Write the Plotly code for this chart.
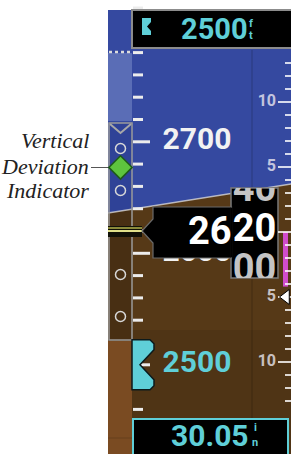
import plotly.graph_objects as go

# ---------------- data ----------------
selected_alt = 2500            # selected altitude (ft)
current_alt = 2620             # indicated altitude (ft)
baro_setting = "30.05"         # barometric setting (inHg)
tape_label_alts = [2700, 2600, 2500]
tape_tick_alts = list(range(2420, 2841, 20))
roll_values = [2640, 2620, 2600]
roll_text = ["40", "20", "00"]
vsi_label_values = [1000, 500, -500, -1000]
vsi_label_text = ["10", "5", "5", "10"]
vsi_tick_values = list(range(-1300, 1301, 100))
vertical_speed = -500
vs_trend = -420
vdi_dots = [-2, -1, 1, 2]
vdi_deviation = 1.55
callout_lines = ["Vertical", "Deviation", "Indicator"]

# ---------------- styling ----------------
SKY = "#3549a0"
SKY_DARK = "#2f4297"
SKY_LIGHT = "#5a6db6"
GROUND = "#563917"
GROUND_DARK = "#482f13"
GROUND_LEFT = "#7a4b22"
CYAN = "#5fcfd8"
GREY = "#8c8c8c"
DIGIT_FONT = "Roboto"

W, H = 291, 454
PX_PER_FT = 1.115
PTR_PX = 231          # pixel row of the altitude pointer
VSI_PX_PER_FPM = 0.13
VSI_ZERO_PX = 232
VDI_ZERO_PX = 232.5
VDI_PX_PER_DOT = 42

alt_top = current_alt + PTR_PX / PX_PER_FT
alt_bot = current_alt - (H - PTR_PX) / PX_PER_FT

fig = go.Figure()

# tape ticks
tx, ty = [], []
for a in tape_tick_alts:
    x1 = 150 if a % 100 == 0 else 143
    tx += [133, x1, None]
    ty += [a, a, None]
fig.add_trace(go.Scatter(x=tx, y=ty, mode="lines", line=dict(color="#ececec", width=3),
                         yaxis="y", hoverinfo="skip"))
# tape labels
fig.add_trace(go.Scatter(
    x=[197] * len(tape_label_alts), y=tape_label_alts, mode="text",
    text=[str(a) for a in tape_label_alts],
    textfont=dict(family=DIGIT_FONT, size=30, weight="bold",
                  color=[CYAN if a == selected_alt else "#f2f2f2" for a in tape_label_alts]),
    yaxis="y", hoverinfo="skip"))

# VSI ticks
vx, vy = [], []
for v in vsi_tick_values:
    x0 = 278 if v % 500 == 0 else 285
    vx += [x0, 291, None]
    vy += [v, v, None]
fig.add_trace(go.Scatter(x=vx, y=vy, mode="lines", line=dict(color="rgba(255,255,255,0.8)", width=2),
                         yaxis="y2", hoverinfo="skip"))
fig.add_trace(go.Scatter(
    x=[276] * len(vsi_label_values), y=vsi_label_values, mode="text",
    text=vsi_label_text, textposition="middle left",
    textfont=dict(family=DIGIT_FONT, size=16, weight="bold", color="rgba(235,232,240,0.8)"),
    yaxis="y2", hoverinfo="skip"))
fig.add_trace(go.Scatter(
    x=[286], y=[vertical_speed], mode="markers",
    marker=dict(symbol="triangle-left", size=13, color="white", line=dict(color="black", width=1)),
    yaxis="y2", hoverinfo="skip"))

# VDI
fig.add_trace(go.Scatter(
    x=[120.5] * len(vdi_dots), y=vdi_dots, mode="markers",
    marker=dict(symbol="circle-open", size=10, color="#d8d8d8", line=dict(width=1.5)),
    yaxis="y4", hoverinfo="skip"))
fig.add_trace(go.Scatter(
    x=[120.5], y=[vdi_deviation], mode="markers",
    marker=dict(symbol="diamond", size=18, color="#5ec43e", line=dict(color="#1e5a1a", width=1.5)),
    yaxis="y4", hoverinfo="skip"))

# rolling digits in the window subplot
fig.add_trace(go.Scatter(
    x=[254.5] * 3, y=roll_values, mode="text", text=roll_text,
    textfont=dict(family=DIGIT_FONT, size=38, weight="bold", color=["#c4c4c4", "white", "#c4c4c4"]),
    xaxis="x2", yaxis="y5", cliponaxis=True, hoverinfo="skip"))


def hz(x):
    return 213 - (x - 108) * (29 / 183)


shapes = []
P = dict(xref="x", yref="y3")
# backgrounds
shapes.append(dict(type="rect", x0=108, x1=292, y0=10, y1=455, fillcolor=SKY, line_width=0, layer="below", **P))
shapes.append(dict(type="path", path=f"M108,{hz(108)} L292,{hz(292)} L292,455 L108,455 Z",
                   fillcolor=GROUND, line_width=0, layer="below", **P))
shapes.append(dict(type="path", path="M108,330 L292,330 L292,455 L108,455 Z",
                   fillcolor="rgba(0,0,0,0.07)", line_width=0, layer="below", **P))
shapes.append(dict(type="rect", x0=108, x1=132, y0=53, y1=121, fillcolor=SKY_LIGHT, line_width=0, layer="below", **P))
shapes.append(dict(type="path", path=f"M109,123 L132,123 L132,{hz(132)} L109,{hz(109)} Z",
                   fillcolor=SKY_DARK, line_width=0, layer="below", **P))
shapes.append(dict(type="path", path=f"M109,{hz(109)} L132,{hz(132)} L132,340 L109,340 Z",
                   fillcolor=GROUND_DARK, line_width=0, layer="below", **P))
shapes.append(dict(type="rect", x0=108, x1=132, y0=341, y1=455, fillcolor=GROUND_LEFT, line_width=0, layer="below", **P))
shapes.append(dict(type="line", x0=108, x1=132, y0=438, y1=438, line=dict(color="rgba(0,0,0,0.15)", width=1), layer="below", **P))
# VSI divider
shapes.append(dict(type="line", x0=252, x1=252, y0=50, y1=418, line=dict(color="rgba(0,0,0,0.22)", width=1), layer="below", **P))
# horizon line
shapes.append(dict(type="line", x0=108, x1=292, y0=hz(108), y1=hz(292),
                   line=dict(color="rgba(225,225,225,0.75)", width=1.5), layer="below", **P))
# VSI trend bar
shapes.append(dict(type="rect", xref="x", yref="y2", x0=283, x1=288, y0=0, y1=vs_trend,
                   fillcolor="#d04ccc", line_width=0, layer="below"))
# digit window
shapes.append(dict(type="rect", x0=231, x1=278, y0=188, y1=278, fillcolor="black",
                   line=dict(color="#7a7a7a", width=1.5), layer="below", **P))
# dotted line
shapes.append(dict(type="line", x0=109, x1=131, y0=52, y1=52, line=dict(color="#dcdcdc", width=2.5, dash="dot"),
                   layer="below", **P))
# VDI outline and chevron
shapes.append(dict(type="rect", x0=109, x1=132, y0=123, y1=340, line=dict(color="#9a9a9a", width=1.5), layer="below", **P))
shapes.append(dict(type="path", path="M110,124 L120.5,133 L131,124", line=dict(color="#a8a8a8", width=2), layer="below", **P))
# leader line
shapes.append(dict(type="line", x0=91, x1=112, y0=167.5, y1=167.5, line=dict(color="#555555", width=1), layer="below", **P))

# ---- above ----
# aircraft reference line
shapes.append(dict(type="rect", x0=108, x1=142, y0=226, y1=237, fillcolor="#111108", line_width=0, layer="above", **P))
shapes.append(dict(type="line", x0=108, x1=142, y0=228, y1=228, line=dict(color="#8a8a3a", width=2), layer="above", **P))
shapes.append(dict(type="line", x0=108, x1=142, y0=231, y1=231, line=dict(color="#e0e08a", width=2), layer="above", **P))
# pointer body
shapes.append(dict(type="path", path="M142,231 L153,219 L153,207 L231.5,207 L231.5,258 L153,258 L153,243 Z",
                   fillcolor="black", line=dict(color="#6a6a6a", width=1.2), layer="above", **P))
shapes.append(dict(type="line", x0=231.5, x1=231.5, y0=207.6, y1=257.4, line=dict(color="black", width=2), layer="above", **P))
# selected altitude bug on the tape
shapes.append(dict(type="path", xref="x", yref="y", ysizemode="pixel", yanchor=selected_alt,
                   path="M132,25 L150,25 L154,21 L154,15 L140,0 L154,-15 L154,-21 L150,-25 L132,-25 Z",
                   fillcolor=CYAN, line=dict(color="#0c1a1c", width=1.5), layer="above"))
# top selected altitude box
shapes.append(dict(type="rect", x0=132, x1=294, y0=10, y1=48, fillcolor="black",
                   line=dict(color=GREY, width=2), layer="above", **P))
shapes.append(dict(type="path", path="M142,18 L151,18 L151,22 L147,26.5 L151,31 L151,35 L142,35 Z",
                   fillcolor=CYAN, line_width=0, layer="above", **P))
# baro box
shapes.append(dict(type="rect", x0=133, x1=288, y0=419, y1=460, fillcolor="black",
                   line=dict(color=CYAN, width=2), layer="above", **P))

ann = []
for txt, yy in zip(callout_lines, [140, 166, 190]):
    ann.append(dict(text=txt, x=91, y=yy, xref="x", yref="y3", xanchor="right", yanchor="middle", showarrow=False,
                    font=dict(family="Liberation Serif", size=22, style="italic", color="#222222")))
ann.append(dict(text=str(current_alt // 100), x=210, y=PTR_PX, xref="x", yref="y3", showarrow=False,
                font=dict(family=DIGIT_FONT, size=38, weight="bold", color="white")))
ann.append(dict(text=str(selected_alt), x=214, y=29, xref="x", yref="y3", showarrow=False,
                font=dict(family=DIGIT_FONT, size=29, weight="bold", color=CYAN)))
ann.append(dict(text="f", x=251, y=23, xref="x", yref="y3", showarrow=False,
                font=dict(family=DIGIT_FONT, size=11, weight="bold", color=CYAN)))
ann.append(dict(text="t", x=251, y=35, xref="x", yref="y3", showarrow=False,
                font=dict(family=DIGIT_FONT, size=11, weight="bold", color=CYAN)))
ann.append(dict(text=baro_setting, x=210, y=435.5, xref="x", yref="y3", showarrow=False,
                font=dict(family=DIGIT_FONT, size=30, weight="bold", color=CYAN)))
ann.append(dict(text="i", x=255, y=427, xref="x", yref="y3", showarrow=False,
                font=dict(family=DIGIT_FONT, size=11, weight="bold", color=CYAN)))
ann.append(dict(text="n", x=255, y=442, xref="x", yref="y3", showarrow=False,
                font=dict(family=DIGIT_FONT, size=11, weight="bold", color=CYAN)))

hidden = dict(visible=False, showgrid=False, zeroline=False, fixedrange=True)
fig.update_layout(
    width=W, height=H, autosize=False, margin=dict(l=0, r=0, t=0, b=0, pad=0),
    paper_bgcolor="white", plot_bgcolor="rgba(0,0,0,0)", showlegend=False,
    xaxis=dict(range=[0, W], domain=[0, 1], **hidden),
    yaxis=dict(range=[alt_bot, alt_top], domain=[0, 1], **hidden),
    yaxis2=dict(range=[-(H - VSI_ZERO_PX) / VSI_PX_PER_FPM, VSI_ZERO_PX / VSI_PX_PER_FPM], overlaying="y", **hidden),
    yaxis3=dict(range=[H, 0], overlaying="y", **hidden),
    yaxis4=dict(range=[-(H - VDI_ZERO_PX) / VDI_PX_PER_DOT, VDI_ZERO_PX / VDI_PX_PER_DOT], overlaying="y", **hidden),
    xaxis2=dict(range=[231.5, 278], domain=[231.5 / W, 278 / W], anchor="y5", **hidden),
    yaxis5=dict(range=[current_alt - (278 - PTR_PX) / 2.0, current_alt + (PTR_PX - 188) / 2.0],
                domain=[(H - 278) / H, (H - 188) / H], anchor="x2", **hidden),
    shapes=shapes, annotations=ann, hovermode=False,
)

fig.write_html("out.html", include_plotlyjs=True, config=dict(displayModeBar=False, staticPlot=True),
               post_script="document.body.style.margin='0';document.body.style.overflow='hidden';")
